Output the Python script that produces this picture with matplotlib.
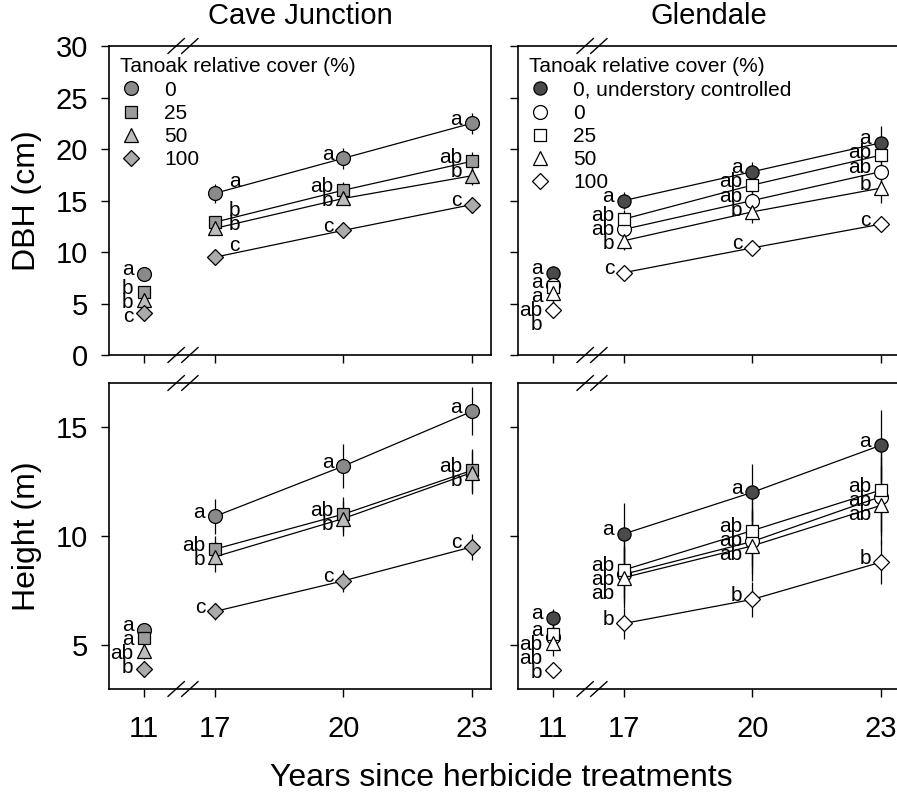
import matplotlib.pyplot as plt
import matplotlib.transforms as mtransforms

plt.rcParams['font.family'] = ['Liberation Sans', 'DejaVu Sans']

years = [11, 17, 20, 23]
year_labels = ['11', '17', '20', '23']

# Cave Junction: tanoak cover 0, 25, 50, 100 %
cj_names = ['0', '25', '50', '100']
cj_dbh = [[7.9, 15.7, 19.1, 22.5],
          [6.1, 12.9, 16.0, 18.8],
          [5.3, 12.3, 15.2, 17.4],
          [4.1, 9.5, 12.1, 14.6]]
cj_dbh_se = [[0.4, 0.9, 1.0, 1.0],
             [0.4, 0.5, 0.8, 0.9],
             [0.4, 0.6, 0.6, 0.9],
             [0.3, 0.4, 0.4, 0.4]]
cj_dbh_let = [['a', 'a', 'a', 'a'],
              ['b', 'b', 'ab', 'ab'],
              ['b', 'b', 'b', 'b'],
              ['c', 'c', 'c', 'c']]
cj_ht = [[5.7, 10.9, 13.2, 15.7],
         [5.35, 9.4, 11.0, 13.0],
         [4.75, 9.05, 10.8, 12.9],
         [3.9, 6.55, 7.95, 9.5]]
cj_ht_se = [[0.3, 0.8, 1.0, 1.1],
            [0.4, 0.6, 0.8, 1.0],
            [0.4, 0.7, 0.8, 1.0],
            [0.2, 0.4, 0.5, 0.6]]
cj_ht_let = [['a', 'a', 'a', 'a'],
             ['a', 'ab', 'ab', 'ab'],
             ['ab', 'b', 'b', 'b'],
             ['b', 'c', 'c', 'c']]

# Glendale: understory controlled, then tanoak cover 0, 25, 50, 100 %
gl_names = ['0, understory controlled', '0', '25', '50', '100']
gl_dbh = [[8.0, 15.0, 17.8, 20.6],
          [6.8, 12.2, 15.0, 17.8],
          [6.6, 13.2, 16.5, 19.4],
          [6.0, 11.1, 13.9, 16.2],
          [4.4, 8.0, 10.4, 12.7]]
gl_dbh_se = [[0.6, 0.8, 0.9, 1.6],
             [0.8, 1.0, 1.2, 1.5],
             [0.8, 0.9, 1.1, 1.4],
             [0.9, 0.9, 1.1, 1.4],
             [0.8, 0.5, 0.5, 0.7]]
gl_dbh_let = [['a', 'a', 'a', 'a'],
              ['a', 'ab', 'ab', 'ab'],
              ['a', 'ab', 'ab', 'ab'],
              ['ab', 'b', 'b', 'b'],
              ['b', 'c', 'c', 'c']]
gl_ht = [[6.25, 10.1, 12.0, 14.15],
         [5.4, 8.25, 9.75, 11.8],
         [5.5, 8.45, 10.25, 12.1],
         [5.1, 8.1, 9.55, 11.4],
         [3.85, 6.0, 7.1, 8.8]]
gl_ht_se = [[0.4, 1.4, 1.3, 1.6],
            [0.6, 1.3, 1.5, 1.8],
            [0.6, 1.3, 1.6, 1.9],
            [0.6, 1.4, 1.6, 1.8],
            [0.3, 0.7, 0.8, 1.0]]
gl_ht_let = [['a', 'a', 'a', 'a'],
             ['ab', 'ab', 'ab', 'ab'],
             ['a', 'ab', 'ab', 'ab'],
             ['ab', 'ab', 'ab', 'ab'],
             ['b', 'b', 'b', 'b']]

cj_styles = [dict(marker='o', mfc='#8a8a8a', ms=10),
             dict(marker='s', mfc='#9c9c9c', ms=8.5),
             dict(marker='^', mfc='#bdbdbd', ms=9.5),
             dict(marker='D', mfc='#ababab', ms=8.5)]
gl_styles = [dict(marker='o', mfc='#4a4a4a', ms=9.5),
             dict(marker='o', mfc='white', ms=10),
             dict(marker='s', mfc='white', ms=8.5),
             dict(marker='^', mfc='white', ms=9.5),
             dict(marker='D', mfc='white', ms=8.5)]


def xpos(yr):
    # compress the gap between year 11 and year 17
    if yr >= 17:
        return yr
    return 17 - 1.67 * (17 - yr) / 6


xs = [xpos(y) for y in years]
x_break = 16.25

fig = plt.figure(figsize=(8.97, 7.92), dpi=100)
W, H = 897, 792


def make_ax(left, top, right, bottom):
    return fig.add_axes([left / W, 1 - bottom / H, (right - left) / W, (bottom - top) / H])


ax_cd = make_ax(109, 46, 491, 355)
ax_gd = make_ax(518, 46, 900, 355)
ax_ch = make_ax(109, 383, 491, 689)
ax_gh = make_ax(518, 383, 900, 689)


def draw_panel(ax, means, errs, letters, styles, names, sides, ylim, yticks,
               show_ylab, show_xlab):
    ax.set_xlim(14.52, 23.45)
    ax.set_ylim(*ylim)
    ax.set_yticks(yticks)
    ax.set_xticks(xs)
    ax.set_xticklabels(year_labels)
    ax.tick_params(direction='out', length=6, width=1, labelsize=21)
    ax.tick_params(axis='x', pad=13)
    ax.tick_params(axis='y', pad=9)
    if not show_ylab:
        ax.set_yticklabels([])
    if not show_xlab:
        ax.set_xticklabels([])
    for sp in ax.spines.values():
        sp.set_linewidth(1.2)

    for m, e, st, nm in zip(means, errs, styles, names):
        ax.errorbar(xs, m, yerr=e, fmt='none', ecolor='black', elinewidth=0.9, zorder=2)
        ax.plot(xs[1:], m[1:], color='black', lw=0.9, zorder=1)
        ax.plot(xs, m, ls='none', marker=st['marker'], ms=st['ms'], mfc=st['mfc'],
                mec='black', mew=0.9, zorder=3, label=nm)

    # significance letters, nudged apart vertically
    gap = 14
    for j in range(len(years)):
        side = sides[j]
        if side == 'right':
            dx, base, ha = 14, 12, 'left'
        else:
            dx, base, ha = -10, 4, 'right'
        order = sorted(range(len(means)), key=lambda i: -means[i][j])
        last = None
        for i in order:
            py = ax.transData.transform((xs[j], means[i][j]))[1]
            ty = py + base
            if last is not None and ty > last - gap:
                ty = last - gap
            last = ty
            ax.annotate(letters[i][j], (xs[j], means[i][j]), xytext=(dx, ty - py),
                        textcoords='offset pixels', ha=ha, va='center', fontsize=15)

    # axis break marks
    tr = mtransforms.blended_transform_factory(ax.transData, ax.transAxes)
    for yb in (0, 1):
        for xo in (-0.16, 0.16):
            ax.plot([x_break + xo - 0.19, x_break + xo + 0.19], [yb - 0.024, yb + 0.024],
                    color='black', lw=1, transform=tr, clip_on=False, zorder=5)


draw_panel(ax_cd, cj_dbh, cj_dbh_se, cj_dbh_let, cj_styles, cj_names,
           ['left', 'right', 'left', 'left'], (0, 30), range(0, 31, 5), True, False)
draw_panel(ax_gd, gl_dbh, gl_dbh_se, gl_dbh_let, gl_styles, gl_names,
           ['left', 'left', 'left', 'left'], (0, 30), range(0, 31, 5), False, False)
draw_panel(ax_ch, cj_ht, cj_ht_se, cj_ht_let, cj_styles, cj_names,
           ['left', 'left', 'left', 'left'], (3, 17), [5, 10, 15], True, True)
draw_panel(ax_gh, gl_ht, gl_ht_se, gl_ht_let, gl_styles, gl_names,
           ['left', 'left', 'left', 'left'], (3, 17), [5, 10, 15], False, True)

for ax in (ax_cd, ax_gd):
    ax.legend(loc='upper left', title='Tanoak relative cover (%)', frameon=False,
              fontsize=15, title_fontsize=15, alignment='left', handlelength=1.0,
              handletextpad=1.1, labelspacing=0.2, borderaxespad=0.25, borderpad=0.3)

ax_cd.set_title('Cave Junction', fontsize=21, pad=16)
ax_gd.set_title('Glendale', fontsize=21, pad=16)
ax_cd.set_ylabel('DBH (cm)', fontsize=23, labelpad=10)
ax_ch.set_ylabel('Height (m)', fontsize=23, labelpad=10)
fig.text(501 / W, 6 / H, 'Years since herbicide treatments', fontsize=23,
         ha='center', va='baseline')

fig.savefig('out.png', dpi=100)
